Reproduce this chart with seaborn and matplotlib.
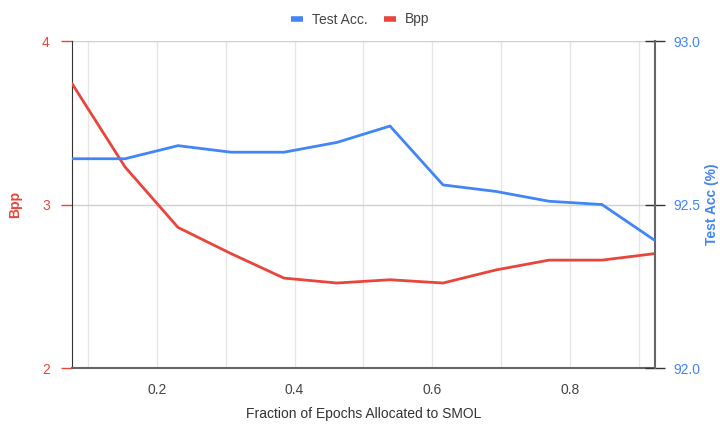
import numpy as np
import pandas as pd
import matplotlib.pyplot as plt
import seaborn as sns
from matplotlib.lines import Line2D

# fraction of epochs allocated to SMOL (k/13)
fraction = [1/13, 2/13, 3/13, 4/13, 5/13, 6/13, 7/13, 8/13, 9/13, 10/13, 11/13, 12/13]
bpp = [3.74, 3.23, 2.86, 2.70, 2.55, 2.52, 2.54, 2.52, 2.60, 2.66, 2.66, 2.70]
test_acc = [92.64, 92.64, 92.68, 92.66, 92.66, 92.69, 92.74, 92.56, 92.54, 92.51, 92.50, 92.39]

RED = '#e8453c'
BLUE = '#4285f4'

df = pd.DataFrame({'fraction': fraction, 'bpp': bpp, 'acc': test_acc})

sns.set_style('white')
plt.rcParams['font.family'] = ['Liberation Sans', 'DejaVu Sans']

fig = plt.figure(figsize=(7.2, 4.25), dpi=100)
ax = fig.add_axes([0.1, 0.134, 0.8097, 0.7695])
ax2 = ax.twinx()

sns.lineplot(data=df, x='fraction', y='bpp', ax=ax, color=RED, linewidth=2, zorder=3)
sns.lineplot(data=df, x='fraction', y='acc', ax=ax2, color=BLUE, linewidth=2, zorder=3)

ax.set_xlim(fraction[0], fraction[-1])
ax.set_ylim(2, 4)
ax2.set_ylim(92.0, 93.0)

# gridlines
for gx in np.arange(0.1, 0.95, 0.1):
    ax.axvline(gx, color='#e6e6e6', linewidth=1, zorder=0)
for gy in [3, 4]:
    ax.axhline(gy, color='#d0d0d0', linewidth=1, zorder=0)

ax.set_xticks([0.2, 0.4, 0.6, 0.8])
ax.set_xticklabels(['0.2', '0.4', '0.6', '0.8'], color='#444444', fontsize=10)
ax.tick_params(axis='x', direction='inout', length=10, width=1, color='#333333', pad=6)

ax.set_yticks([2, 3, 4])
ax.set_yticklabels(['2', '3', '4'], color=RED, fontsize=10)
ax.tick_params(axis='y', direction='out', length=8, width=1, color=RED, pad=8)

ax2.set_yticks([92.0, 92.5, 93.0])
ax2.set_yticklabels(['92.0', '92.5', '93.0'], color=BLUE, fontsize=10)
ax2.tick_params(axis='y', direction='inout', length=14, width=1, color='#333333', pad=6)

for a in (ax, ax2):
    for s in a.spines.values():
        s.set_visible(False)
ax.spines['left'].set_visible(True)
ax.spines['left'].set_color('#333333')
ax.spines['bottom'].set_visible(True)
ax.spines['bottom'].set_color('#666666')
ax.spines['bottom'].set_linewidth(1.5)
ax2.spines['right'].set_visible(True)
ax2.spines['right'].set_color('#666666')
ax2.spines['right'].set_linewidth(1.5)

ax.set_xlabel('Fraction of Epochs Allocated to SMOL', fontsize=10, color='#333333', va='center')
ax.xaxis.set_label_coords(0.5, -0.14)
ax.set_ylabel('Bpp', color=RED, fontsize=10, fontweight='bold', va='center')
ax.yaxis.set_label_coords(-0.098, 0.5)
ax2.set_ylabel('Test Acc (%)', color=BLUE, fontsize=10, fontweight='bold', va='center')
ax2.yaxis.set_label_coords(1.098, 0.5)

handles = [Line2D([], [], color=BLUE, linewidth=4, solid_capstyle='butt'),
           Line2D([], [], color=RED, linewidth=4, solid_capstyle='butt')]
fig.legend(handles, ['Test Acc.', 'Bpp'], loc='upper center', bbox_to_anchor=(0.5, 1.0),
           ncol=2, frameon=False, fontsize=10, handlelength=0.9, handletextpad=0.6,
           columnspacing=1.2, labelcolor='#444444')

fig.savefig('out.png', dpi=100)
